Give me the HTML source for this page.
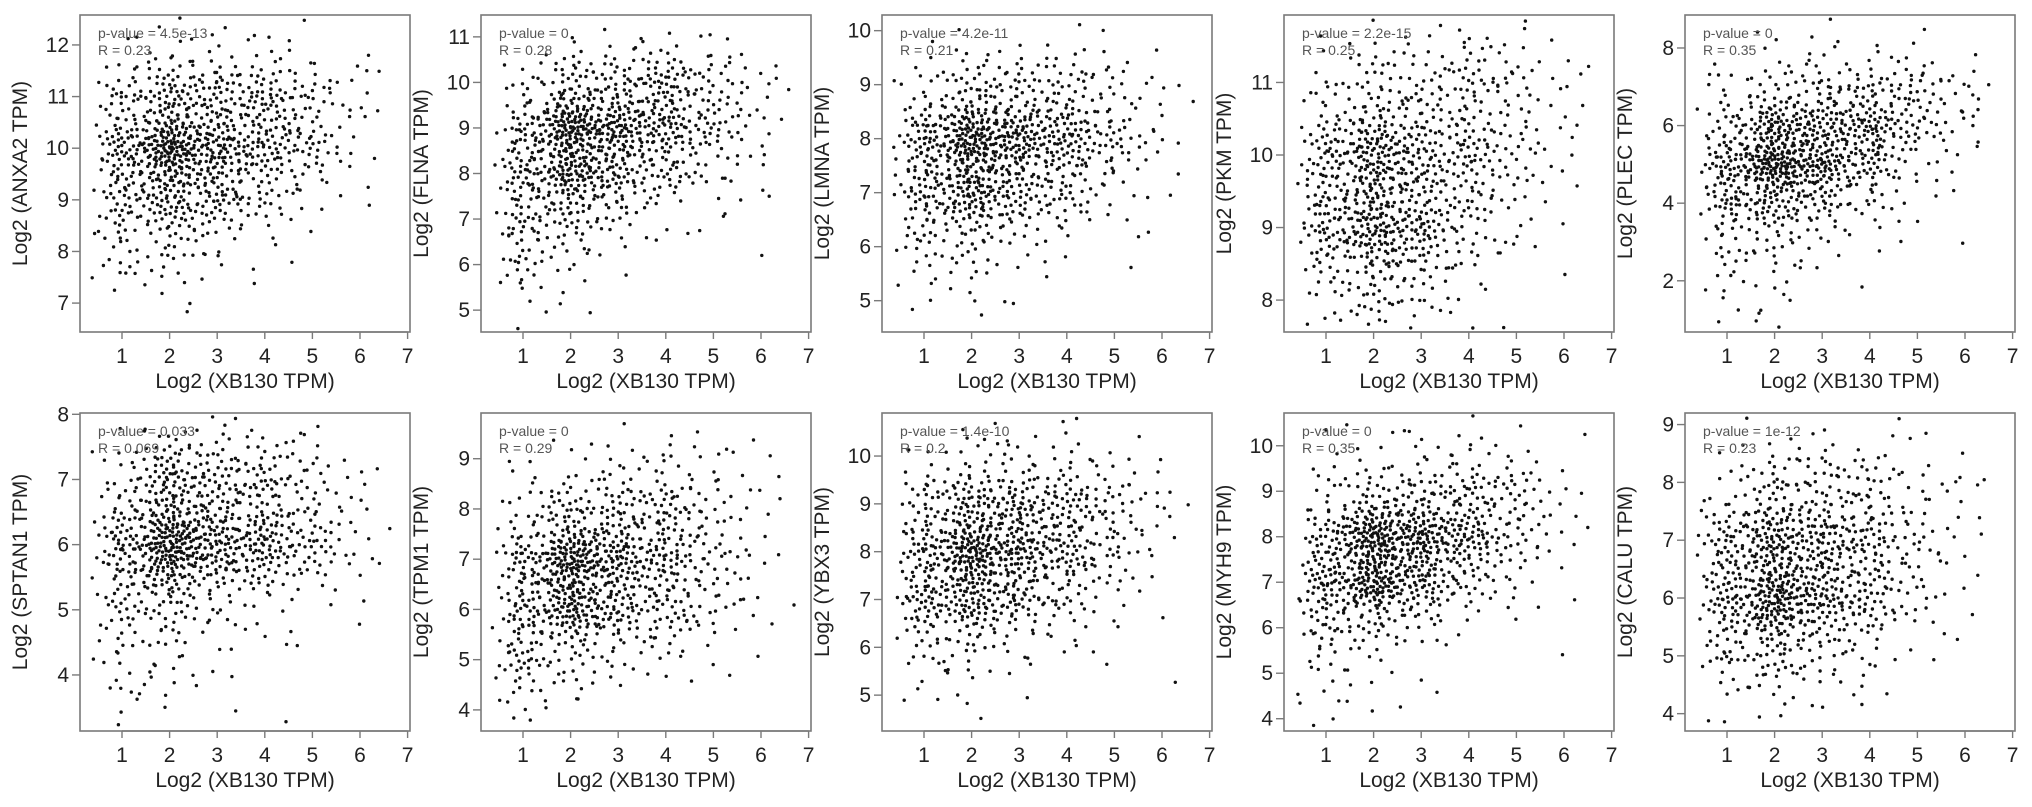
<!DOCTYPE html>
<html><head><meta charset="utf-8"><style>
html,body{margin:0;padding:0;background:#fff;}
svg{display:block;font-family:"Liberation Sans",Arial,sans-serif;}
</style></head>
<body>
<svg id="fig" width="2032" height="807" viewBox="0 0 2032 807" xmlns="http://www.w3.org/2000/svg"></svg>
<script>
// ---- data ----
const genes = ["ANXA2","FLNA","LMNA","PKM","PLEC","SPTAN1","TPM1","YBX3","MYH9","CALU"];
const pValues = ["4.5e-13","0","4.2e-11","2.2e-15","0","0.033","0","1.4e-10","0","1e-12"];
const rValues = ["0.23","0.28","0.21","0.25","0.35","0.069","0.29","0.2","0.35","0.23"];
const xTicks = [1,2,3,4,5,6,7];
const xBinCenters = [1.0,2.0,3.0,4.0,5.0,6.0];
const yTicks0 = [7,8,9,10,11,12];
const yTicks1 = [5,6,7,8,9,10,11];
const yTicks2 = [5,6,7,8,9,10];
const yTicks3 = [8,9,10,11];
const yTicks4 = [2,4,6,8];
const yTicks5 = [4,5,6,7,8];
const yTicks6 = [4,5,6,7,8,9];
const yTicks7 = [5,6,7,8,9,10];
const yTicks8 = [4,5,6,7,8,9,10];
const yTicks9 = [4,5,6,7,8,9];
// y-bin centres (top to bottom) and point counts per x-bin
const yBins0 = [12,11,10,9,8,7];
const counts0 = [[3,8,8,5,2,1],[25,70,55,60,30,8],[60,170,100,70,35,6],[40,80,55,25,8,0],[20,20,8,4,0,0],[2,2,2,0,0,0]];
const yBins1 = [11,10,9,8,7,6,5];
const counts1 = [[0,3,2,4,3,0],[8,40,45,55,30,8],[35,150,100,70,35,8],[45,110,60,35,12,3],[35,40,15,6,2,2],[20,8,3,0,0,0],[6,2,0,0,0,0]];
const yBins2 = [10,9,8,7,6,5];
const counts2 = [[0,1,0,1,1,0],[12,40,30,35,15,5],[60,170,110,85,35,8],[50,110,60,35,12,4],[20,25,10,4,1,0],[5,4,1,0,0,0]];
const yBins3 = [11.6,11,10,9,8];
const counts3 = [[0,1,0,1,2,0],[12,35,30,45,25,8],[60,140,85,65,30,8],[60,140,85,35,10,2],[15,35,20,5,1,0]];
const yBins4 = [8,7,6,5,4,3,2,1];
const counts4 = [[1,5,5,3,4,1],[6,20,25,30,25,10],[25,80,70,70,30,8],[50,150,90,45,12,2],[35,60,30,15,3,0],[15,15,8,3,0,1],[10,8,2,0,0,0],[3,3,0,0,0,0]];
const yBins5 = [7.6,7,6,5,4,3.5];
const counts5 = [[0,2,4,3,1,0],[20,80,60,50,25,6],[60,210,120,95,45,12],[35,40,15,8,3,1],[12,10,4,1,0,0],[2,2,1,0,0,0]];
const yBins6 = [9,8,7,6,5,4];
const counts6 = [[2,6,8,10,8,4],[15,35,45,45,20,6],[40,160,90,60,25,4],[45,110,60,40,18,6],[35,25,12,8,3,0],[10,4,0,0,0,0]];
const yBins7 = [10.4,10,9,8,7,6,5];
const counts7 = [[0,0,1,1,1,0],[4,12,10,10,5,1],[30,70,60,55,30,8],[45,150,90,60,20,4],[50,90,50,25,8,2],[15,20,8,4,2,1],[4,4,1,0,0,0]];
const yBins8 = [10,9,8,7,6,5,4];
const counts8 = [[2,5,5,8,6,2],[10,30,35,40,25,6],[40,150,110,75,25,4],[55,140,70,30,8,2],[30,25,10,4,0,1],[10,5,1,0,0,0],[4,3,1,0,0,0]];
const yBins9 = [9,8,7,6,5,4];
const counts9 = [[0,2,4,1,2,0],[10,30,35,30,12,6],[50,110,80,60,20,6],[60,160,90,55,18,4],[25,40,25,10,2,0],[5,4,2,2,0,0]];

const allTicks=[yTicks0,yTicks1,yTicks2,yTicks3,yTicks4,yTicks5,yTicks6,yTicks7,yTicks8,yTicks9];
const allBins=[yBins0,yBins1,yBins2,yBins3,yBins4,yBins5,yBins6,yBins7,yBins8,yBins9];
const allCounts=[counts0,counts1,counts2,counts3,counts4,counts5,counts6,counts7,counts8,counts9];

// ---- layout ----
const lefts=[80,481,882,1284,1685];
const rowTop=[15,413], rowBot=[332,731];
const yDom=[[6.44,12.58],[4.52,11.48],[4.42,10.29],[7.56,11.93],[0.68,8.85],[3.14,8.02],[3.58,9.91],[4.25,10.9],[3.73,10.72],[3.70,9.2]];
const W=330;
const NS="http://www.w3.org/2000/svg";
const svg=document.getElementById('fig');
function mk(tag,attrs,parent){const e=document.createElementNS(NS,tag);for(const k in attrs)e.setAttribute(k,attrs[k]);(parent||svg).appendChild(e);return e;}

for(let p=0;p<10;p++){
  const row=Math.floor(p/5), col=p%5;
  const L=lefts[col], T=rowTop[row], B=rowBot[row];
  const [y0,y1]=yDom[p];
  const xs=v=>L+42+(v-1)*47.6;
  const ys=v=>B-(v-y0)/(y1-y0)*(B-T);
  const g=mk('g',{});
  
  
  const frame=mk('rect',{x:L,y:T,width:W,height:B-T,fill:'none',stroke:'#7a7a7a','stroke-width':1.6},g);
  
  
  xTicks.forEach(t=>{
    mk('line',{x1:xs(t),x2:xs(t),y1:B,y2:B+7,stroke:'#7a7a7a','stroke-width':1.4},g);
    const tx=mk('text',{x:xs(t),y:B+31,'font-size':21,'text-anchor':'middle',fill:'#222'},g);
    tx.textContent=t;
    
    
  });
  mk('line',{x1:xs(1),x2:xs(7),y1:B,y2:B,stroke:'#7a7a7a','stroke-width':1.4},g);
  const xt=mk('text',{x:L+165,y:B+56,'font-size':21,'text-anchor':'middle',fill:'#222'},g);
  xt.textContent='Log2 (XB130 TPM)';
  
  
  allTicks[p].forEach(t=>{
    mk('line',{x1:L-8,x2:L,y1:ys(t),y2:ys(t),stroke:'#7a7a7a','stroke-width':1.4},g);
    const ty=mk('text',{x:L-11,y:ys(t)+7,'font-size':21,'text-anchor':'end',fill:'#222'},g);
    ty.textContent=t;
    
    
  });
  const cy=(T+B)/2;
  const yt=mk('text',{x:L-53,y:cy,'font-size':21,'text-anchor':'middle',fill:'#222',transform:`rotate(-90 ${L-53} ${cy})`},g);
  yt.textContent='Log2 ('+genes[p]+' TPM)';
  
  
  const bins=allBins[p], cnt=allCounts[p];
  let idx=p*131+7;
  const a1=0.7548776662, a2=0.5698402910;
  const pts=mk('g',{fill:'#111'},g);
  
  
  for(let r=0;r<bins.length;r++){
    for(let c=0;c<6;c++){
      const n=cnt[r][c];
      const xc=xBinCenters[c], yc=bins[r];
      const sx=(c===0||c===5)?0.3:0.38, sy=0.38;
      for(let i=0;i<n;i++){
        idx++;
        const u=Math.max(1e-4,(0.5+a1*idx)%1), v=(0.5+a2*idx)%1;
        const rad=Math.sqrt(-2*Math.log(u));
        const xv=xc+rad*Math.cos(2*Math.PI*v)*sx;
        const yv=yc+rad*Math.sin(2*Math.PI*v)*sy;
        if(xv<0.35||xv>6.9||yv<y0+0.05||yv>y1-0.05) continue;
        const d=mk('circle',{cx:xs(xv).toFixed(1),cy:ys(yv).toFixed(1),r:1.7},pts);
        
        
      }
    }
  }
  const a=mk('text',{x:L+18,y:T+23,'font-size':14,fill:'#555'},g);
  a.textContent='p-value = '+pValues[p];
  
  
  const rr=mk('text',{x:L+18,y:T+40,'font-size':14,fill:'#555'},g);
  rr.textContent='R = '+rValues[p];
  
  
}
</script>
</body></html>
